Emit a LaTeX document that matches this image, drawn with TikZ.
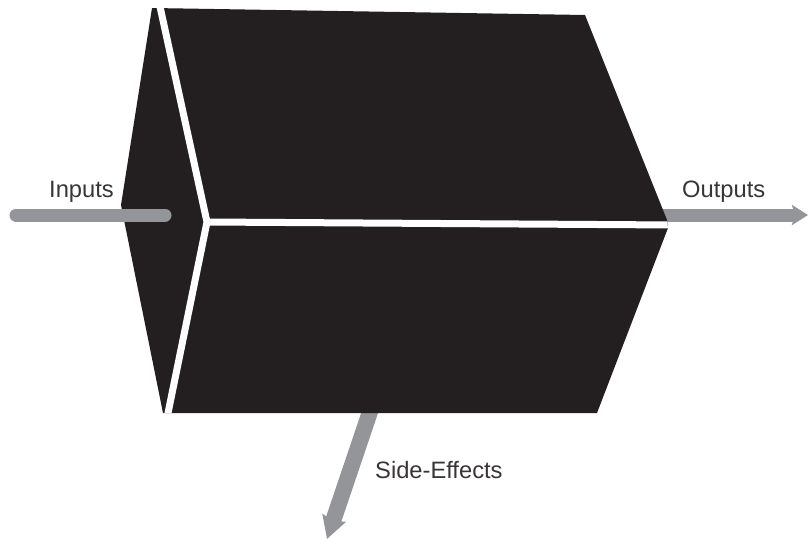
\documentclass[tikz,border=0pt]{standalone}
\usepackage{fontspec}
\setmainfont{Liberation Sans}
\usetikzlibrary{arrows.meta}
\definecolor{boxblack}{RGB}{35,31,32}
\definecolor{flowgray}{RGB}{147,149,152}
\tikzset{
  flow/.style={draw=flowgray, line width=13pt},
  flowtip/.style={-{Stealth[length=16pt,width=20pt,inset=3pt]}},
  label/.style={anchor=base west, inner sep=0pt, font=\fontsize{23.7pt}{26pt}\selectfont, text=boxblack!90},
  seam/.style={draw=white, line width=7pt, line join=round}
}
\begin{document}
\begin{tikzpicture}[x=1pt,y=-1pt]
\useasboundingbox (0,0) rectangle (808,540);
% named points
\coordinate (tl) at (152,8);
\coordinate (tr) at (585,15);
\coordinate (rm) at (667,220);
\coordinate (rb) at (668,228);
\coordinate (br) at (597,413);
\coordinate (bl) at (163,413);
\coordinate (lm) at (121,205);
\coordinate (c) at (207,222);
\coordinate (seamtop) at (159,2);
\coordinate (seambot) at (167,418);
\coordinate (seamright) at (675,225);
\coordinate (inA) at (16,215);
\coordinate (inB) at (165,215);
\coordinate (outA) at (660,215);
\coordinate (outB) at (808,215);
\coordinate (seA) at (374,400);
\coordinate (seB) at (327,539);
% arrows behind the box
\draw[flow, flowtip] (outA) -- (outB);
\draw[flow, line width=16pt, flowtip, -{Stealth[length=22pt,width=24pt,inset=3pt]}] (seA) -- (seB);
% box
\fill[boxblack] (tl) -- (tr) -- (rm) -- (rb) -- (br) -- (bl) -- (lm) -- cycle;
\begin{scope}
\clip (tl) -- (tr) -- (rm) -- (rb) -- (br) -- (bl) -- (lm) -- cycle;
\draw[seam] (seamtop) -- (c) -- (seambot);
\draw[seam] (c) -- (seamright);
\end{scope}
% input arrow on top
\draw[flow, line cap=round] (inA) -- (inB);
% labels
\node[label] (inputs) at (49,197) {Inputs};
\node[label] (outputs) at (682,197) {Outputs};
\node[label] (side) at (375,478) {Side-Effects};
\end{tikzpicture}
\end{document}
